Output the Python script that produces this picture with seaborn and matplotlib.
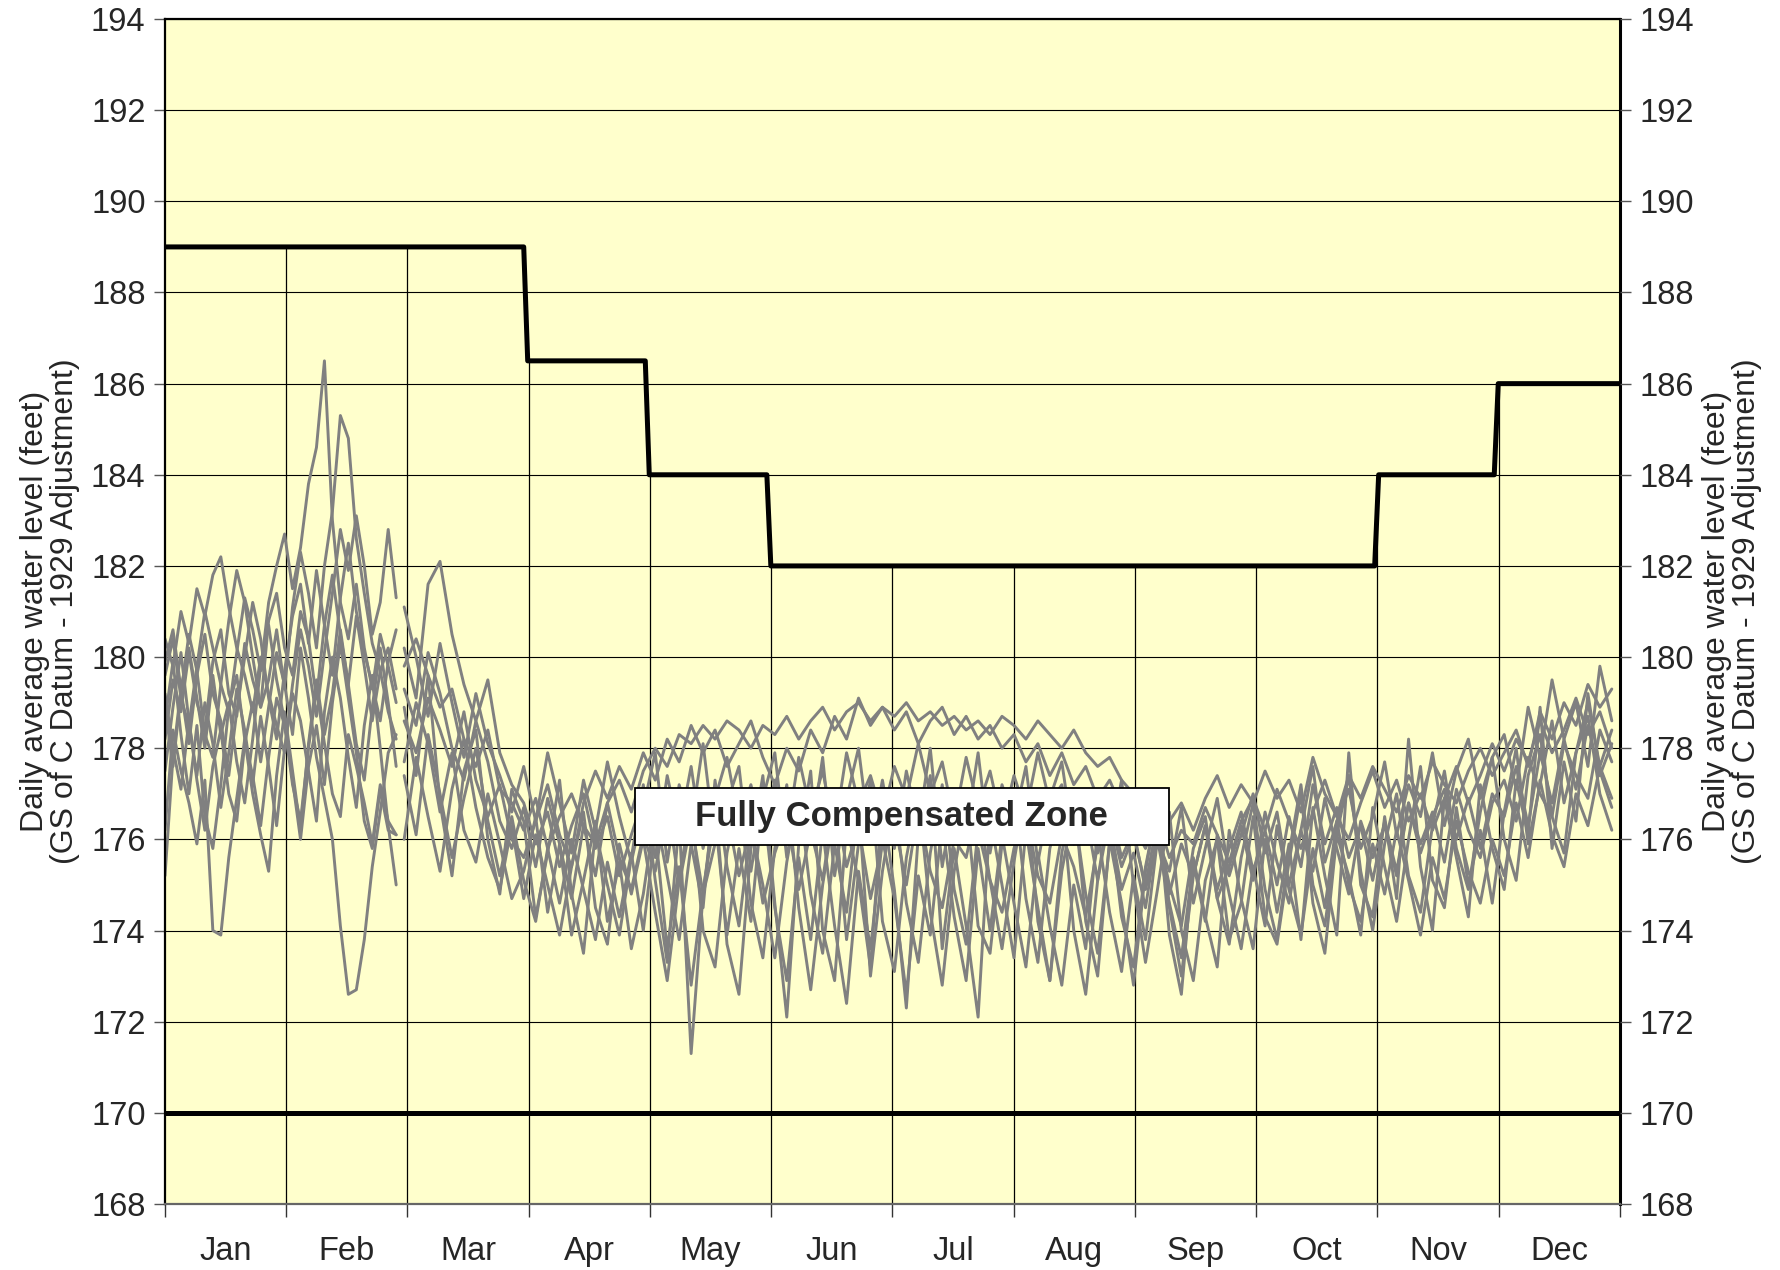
import numpy as np
import pandas as pd
import matplotlib
matplotlib.use("Agg")
import matplotlib.pyplot as plt
from matplotlib.patches import Rectangle
import seaborn as sns

# month labels
months = ["Jan", "Feb", "Mar", "Apr", "May", "Jun",
          "Jul", "Aug", "Sep", "Oct", "Nov", "Dec"]

# rule curves (day of year, level in feet)
upper_x = [0, 90, 91, 120.5, 121.5, 151, 152, 303.5, 304.5, 333.5, 334.5, 365]
upper_y = [189, 189, 186.5, 186.5, 184, 184, 182, 182, 184, 184, 186, 186]
lower_x = [0, 365]
lower_y = [170, 170]

# Jan-Feb traces, every 2 days from day 0 to 58
early_days = list(range(0, 59, 2))
e1 = [178.2,179.5,178.8,180.1,179.0,178.4,179.9,180.6,179.2,178.7,180.3,179.5,178.9,180.8,181.4,
      180.2,179.6,181.0,180.4,179.1,180.7,181.8,180.5,179.4,180.9,179.8,178.6,179.7,180.2,179.3]
e2 = [176.2,178.4,177.5,176.8,175.9,177.3,174.0,173.9,175.6,176.9,178.2,177.4,176.3,177.8,179.1,
      178.5,177.2,176.4,178.0,179.3,178.1,177.0,176.5,178.3,177.6,176.8,175.9,177.2,176.4,176.1]
e3 = [179.6,180.4,179.1,178.5,179.8,181.0,180.2,179.4,178.8,180.1,181.3,180.6,179.7,181.2,182.0,
      182.7,181.5,182.4,183.8,184.6,186.5,183.0,181.2,180.4,181.6,180.2,179.3,180.5,179.8,179.0]
e4 = [178.9,177.6,179.2,180.5,179.7,178.3,177.8,179.4,180.8,181.9,181.2,180.0,178.9,179.5,180.6,
      179.3,181.1,182.3,181.4,180.2,182.0,183.2,185.3,184.8,182.6,181.4,180.3,179.7,178.8,178.2]
e5 = [179.2,178.0,177.1,178.6,177.3,176.2,177.6,178.4,177.0,176.4,178.1,179.0,177.7,178.9,180.1,
      179.4,178.3,180.2,179.1,177.8,176.9,176.0,174.1,172.6,172.7,173.8,175.4,176.6,177.9,178.3]
e6 = [180.4,179.8,181.0,180.3,181.5,180.9,181.8,182.2,181.1,180.2,179.6,178.8,180.0,179.2,178.5,
      177.9,179.4,180.6,179.8,178.7,180.1,181.4,182.8,181.9,183.1,182.0,180.5,181.2,182.8,181.3]
e7 = [177.5,178.9,180.1,178.6,177.4,179.0,178.1,176.7,177.9,179.3,178.4,177.2,178.7,177.6,176.3,
      178.0,179.2,178.6,177.5,176.4,178.8,180.0,179.1,177.8,176.7,178.5,179.6,178.0,176.3,175.0]
e8 = [175.2,177.8,179.3,178.1,179.6,180.5,179.2,178.6,177.4,178.8,180.0,181.2,180.4,179.1,178.2,
      179.7,180.9,181.6,180.3,181.9,180.7,179.6,181.3,182.5,181.0,180.1,179.4,178.6,179.9,180.6]
e9 = [178.6,179.9,178.3,177.0,178.5,176.5,175.8,177.2,178.9,179.6,178.2,177.0,176.1,175.3,177.4,
      178.8,177.5,176.2,178.1,179.5,178.3,179.2,180.6,179.4,178.1,177.3,178.9,180.2,179.0,177.6]
e10 = [179.9,180.6,179.3,180.2,179.1,178.0,179.6,178.3,179.0,177.7,176.8,178.2,179.8,180.7,179.5,
       178.6,177.3,176.0,177.6,178.5,177.2,179.0,180.3,179.1,177.9,176.4,175.8,177.1,176.2,176.1]

# Mar-Dec traces, every 3 days from day 60 to 363
main_days = list(range(60, 364, 3))
m1 = [179.8,180.4,179.6,178.9,179.3,178.2,177.6,178.4,177.1,176.8,
      176.2,176.9,175.8,176.5,177.0,176.3,175.9,176.8,177.3,176.6,
      177.5,178.0,177.6,178.3,178.1,178.5,178.2,178.6,178.4,178.0,178.5,
      178.3,178.7,178.2,178.6,178.9,178.4,178.8,179.0,178.6,178.9,
      178.7,179.0,178.6,178.8,178.5,178.7,178.4,178.6,178.3,178.7,
      178.5,178.2,178.6,178.3,178.0,178.4,177.9,177.6,177.8,177.3,
      177.0,176.6,177.1,176.4,176.8,176.2,176.9,177.4,176.7,177.2,
      176.8,177.5,176.9,177.3,176.6,177.8,177.0,176.5,177.4,176.9,177.6,
      177.1,176.6,177.4,176.9,177.7,177.2,176.8,177.5,178.0,177.4,
      177.9,178.4,177.6,178.8,178.2,179.0,178.5,179.4,178.9,179.3]
m2 = [178.6,177.9,179.1,178.4,177.6,178.8,177.3,176.5,177.2,176.0,
      175.6,176.4,177.2,176.1,175.4,176.8,177.5,176.9,177.6,177.1,
      177.9,177.3,178.2,177.7,178.5,177.9,178.4,177.6,178.1,178.6,177.8,
      177.2,178.0,177.5,178.4,177.9,178.7,178.2,179.1,178.5,178.9,
      178.4,178.8,178.1,178.6,178.9,178.3,178.7,178.2,178.5,178.0,
      178.3,177.7,178.1,177.4,177.9,177.2,177.6,176.9,177.3,176.7,
      176.3,175.8,176.5,175.6,176.2,175.9,176.7,176.1,175.5,176.4,
      176.9,176.2,177.1,176.4,175.8,176.6,177.3,176.5,176.0,176.8,177.5,
      176.7,177.3,176.4,177.0,176.2,176.9,177.6,176.8,177.4,178.1,
      177.5,178.2,177.7,178.6,177.9,178.4,179.1,178.3,178.8,178.0]
m3 = [180.2,179.1,181.6,182.1,180.5,179.4,178.6,179.5,177.9,177.2,
      176.8,175.9,176.6,175.4,176.3,177.0,175.8,176.5,175.2,176.1,
      176.9,175.6,177.4,176.2,177.6,175.8,176.9,177.8,176.4,177.2,176.0,
      177.3,176.1,177.8,176.6,177.5,176.2,177.9,176.8,177.4,176.5,
      177.6,176.9,178.1,177.0,177.7,176.4,177.8,176.7,177.5,176.3,
      177.4,176.6,177.9,176.8,177.2,175.9,176.8,175.7,176.5,175.4,
      176.1,175.0,176.4,174.8,175.9,175.2,176.3,174.9,175.8,176.6,
      175.3,176.2,175.0,176.5,175.4,177.2,175.9,176.7,175.6,176.3,175.1,
      176.4,175.3,176.8,175.7,176.5,177.1,176.0,176.9,175.8,177.0,
      176.5,177.6,176.3,177.9,176.8,178.2,177.1,178.5,177.4,178.1]
m4 = [177.4,176.1,178.3,177.0,175.6,176.9,178.0,176.4,175.2,176.5,
      175.1,174.2,175.8,174.6,176.0,174.9,173.8,175.5,174.3,175.7,
      174.0,176.2,173.6,175.4,172.8,174.9,176.5,173.9,175.8,174.2,176.9,
      174.5,172.9,175.6,173.8,176.2,174.1,172.4,175.3,173.6,176.0,
      174.7,172.6,175.2,173.9,176.4,174.3,172.9,175.8,174.0,176.1,
      174.6,173.2,175.7,174.1,172.8,175.0,173.6,176.2,174.4,173.1,
      175.2,173.8,176.0,174.6,173.4,175.5,174.2,176.1,174.8,173.6,
      175.4,174.1,176.3,174.9,173.9,175.8,174.5,176.4,175.0,174.2,175.9,
      174.8,176.2,175.1,173.9,175.6,174.7,176.4,175.3,174.6,176.0,
      175.2,176.8,175.6,177.3,176.1,175.4,177.0,176.3,177.6,176.9]
m5 = [176.0,177.8,176.5,175.3,177.1,178.2,176.7,175.6,174.9,176.3,
      174.7,176.1,175.0,173.9,175.4,176.6,174.5,173.7,175.9,174.8,
      176.0,174.4,172.9,175.1,176.8,174.0,173.2,175.7,177.0,174.6,173.4,
      175.8,177.2,174.5,172.7,175.0,176.7,173.8,175.9,177.3,174.2,
      173.1,175.6,177.0,174.4,172.8,175.3,176.8,174.1,173.5,175.9,
      177.1,174.7,173.3,175.8,176.9,174.0,172.6,175.1,176.5,174.3,
      173.2,175.4,176.7,174.5,173.0,175.2,176.3,174.7,173.7,175.6,
      176.8,174.9,173.8,175.7,177.2,175.0,174.1,176.1,177.4,175.3,174.0,
      175.9,177.0,175.2,174.4,176.3,177.5,175.8,174.9,176.6,177.8,
      176.0,175.1,177.4,178.3,176.5,175.7,177.9,178.7,177.0,176.2]
m6 = [178.9,177.4,179.6,176.8,175.2,177.5,178.4,176.0,174.8,177.1,
      176.4,174.3,175.7,177.3,174.8,173.5,176.2,175.0,173.9,175.6,
      177.2,175.1,173.3,176.4,171.3,174.8,176.9,173.7,172.6,175.8,177.4,
      174.6,172.1,175.9,177.5,174.0,172.9,176.3,175.1,173.2,176.8,
      174.9,172.3,176.1,177.4,173.6,175.8,174.1,172.1,176.5,175.0,
      173.4,176.2,174.5,172.9,175.7,177.0,174.2,173.0,176.0,174.6,
      172.8,175.3,176.8,173.9,172.6,175.6,174.3,173.2,176.2,174.7,
      173.6,176.0,174.4,175.9,173.8,176.7,175.2,173.9,177.9,175.0,174.3,
      176.5,174.7,178.2,175.4,174.0,176.9,175.6,174.3,177.2,175.8,
      174.9,177.3,176.1,178.9,175.8,177.7,176.4,179.2,177.5,176.7]
m7 = [179.3,178.5,180.1,179.2,178.0,177.3,178.6,177.7,176.4,175.8,
      176.7,175.4,176.9,175.9,174.7,176.3,175.2,176.8,175.6,174.9,
      176.1,175.3,176.8,175.0,176.4,174.8,175.9,176.6,175.2,176.3,174.6,
      175.7,176.5,174.9,176.2,175.1,176.9,175.4,176.3,174.7,175.9,
      176.4,175.0,176.7,175.3,174.5,176.0,175.6,176.8,175.1,174.4,
      175.8,176.6,175.2,174.6,176.1,175.4,174.3,175.9,176.4,174.9,
      175.7,174.5,176.2,175.0,174.1,175.8,176.5,174.7,175.4,176.3,
      175.1,176.6,175.5,174.6,176.2,175.3,176.9,175.8,174.8,176.4,175.6,
      176.3,175.2,176.8,175.9,176.6,175.5,177.1,176.2,175.6,176.8,
      177.3,176.4,177.8,177.0,176.5,178.1,177.4,176.9,178.4,177.7]
m8 = [177.7,179.0,178.1,176.6,177.9,176.2,175.5,177.0,175.9,174.7,
      175.3,176.5,174.4,175.9,173.9,175.1,176.4,174.2,175.5,173.6,
      174.8,176.6,175.2,173.8,175.9,174.5,177.3,175.4,174.1,176.3,175.0,
      173.4,175.5,177.0,174.8,173.5,175.9,174.4,176.8,173.0,175.3,
      176.9,174.6,173.3,175.7,177.2,174.9,173.7,176.2,175.1,173.6,
      175.5,177.1,174.2,172.9,175.3,176.7,174.8,173.5,175.9,177.3,
      175.0,173.3,174.9,176.6,174.0,172.9,175.1,176.0,173.8,174.6,
      176.5,174.3,173.7,175.5,177.0,174.6,173.5,176.1,175.2,173.9,176.7,
      175.4,174.2,176.0,177.6,175.1,174.5,176.7,175.0,176.2,174.6,
      176.6,178.0,175.9,177.2,178.6,176.8,177.9,179.0,177.6,178.4]
m9 = [181.1,180.0,178.7,180.3,179.0,177.8,179.2,178.1,177.4,176.6,
      177.6,176.4,177.9,176.8,175.7,177.3,176.2,177.7,176.5,175.5,
      176.7,177.9,175.5,177.2,176.3,178.1,175.9,176.8,177.6,175.3,176.9,
      177.9,175.6,177.1,176.0,177.8,175.2,176.9,178.0,175.9,177.3,
      175.8,177.5,176.3,178.0,175.4,177.0,176.2,177.9,175.7,177.2,
      176.4,177.6,175.5,176.9,177.7,175.9,176.6,175.1,176.8,175.6,
      176.2,174.9,176.0,175.3,176.7,174.6,175.8,176.9,175.2,176.1,
      177.0,175.7,176.6,175.0,176.2,177.6,175.5,176.4,177.1,175.8,176.5,
      177.7,176.1,177.2,176.5,177.9,176.3,177.5,178.2,176.9,177.8,
      178.3,177.1,178.9,177.8,179.5,178.2,179.0,177.6,179.8,178.6]

early = [e1, e2, e3, e4, e5, e6, e7, e8, e9, e10]
main = [m1, m2, m3, m4, m5, m6, m7, m8, m9]

frames = []
for i, s in enumerate(early):
    frames.append(pd.DataFrame({"day": early_days, "level": s, "run": f"e{i}"}))
for i, s in enumerate(main):
    frames.append(pd.DataFrame({"day": main_days, "level": s, "run": f"m{i}"}))
df = pd.concat(frames, ignore_index=True)

sns.set_style("white")
plt.rcParams["font.family"] = ["Liberation Sans", "DejaVu Sans"]

fig = plt.figure(figsize=(17.8, 12.7), dpi=100)
ax = fig.add_axes([0.0927, 0.052, 0.8173, 0.933])
ax.set_facecolor("#FFFFCC")

# gridlines
yticks = list(range(168, 195, 2))
bounds = [k * 365 / 12 for k in range(13)]
for y in yticks:
    ax.axhline(y, color="black", lw=0.8, zorder=1)
for b in bounds[1:-1]:
    ax.vlines(b, 168, np.interp(b, upper_x, upper_y), color="black", lw=0.9, zorder=1)

sns.lineplot(data=df, x="day", y="level", units="run", estimator=None,
             color="#808080", lw=2.1, ax=ax, zorder=2, legend=False)

ax.plot(upper_x, upper_y, color="black", lw=3.6, zorder=3)
ax.plot(lower_x, lower_y, color="black", lw=3.6, zorder=3)

ax.set_xlim(0, 365)
ax.set_ylim(168, 194)
ax.set_yticks(yticks)
ax.set_yticklabels([str(y) for y in yticks])
ax.set_xticks(bounds)
ax.set_xticklabels([])
ax.set_xticks([(k + 0.5) * 365 / 12 for k in range(12)], minor=True)
ax.set_xticklabels(months, minor=True)
ax.tick_params(axis="x", which="major", direction="out", length=9, width=1, color="#333333", bottom=True)
ax.tick_params(axis="x", which="minor", length=0, pad=23, labelsize=23.5)
ax.tick_params(axis="y", direction="out", length=8, width=1, color="#555555", labelsize=23.5, pad=6, left=True)
ax.set_xlabel("")
ylab = "Daily average water level (feet)\n(GS of C Datum - 1929 Adjustment)"
ax.set_ylabel(ylab, fontsize=23, labelpad=8, linespacing=1.0)

for sp in ax.spines.values():
    sp.set_color("black")
    sp.set_linewidth(1.6)
ax.spines["bottom"].set_color("#666666")

ax2 = ax.twinx()
ax2.set_ylim(168, 194)
ax2.set_yticks(yticks)
ax2.set_yticklabels([str(y) for y in yticks])
ax2.tick_params(axis="y", direction="out", length=8, width=1, color="#555555", labelsize=23.5, pad=6, right=True)
ax2.set_ylabel(ylab, fontsize=23, labelpad=6, linespacing=1.0, rotation=90)
for sp in ax2.spines.values():
    sp.set_visible(False)
ax.spines["right"].set_linewidth(2.2)

# label box
ax.add_patch(Rectangle((0.323, 0.3027), 0.367, 0.048, transform=ax.transAxes,
                       facecolor="white", edgecolor="black", lw=1.3, zorder=5))
ax.text(0.5065, 0.327, "Fully Compensated Zone", transform=ax.transAxes,
        ha="center", va="center", fontsize=25, fontweight="bold", zorder=6)

fig.savefig("out.png", dpi=100)
